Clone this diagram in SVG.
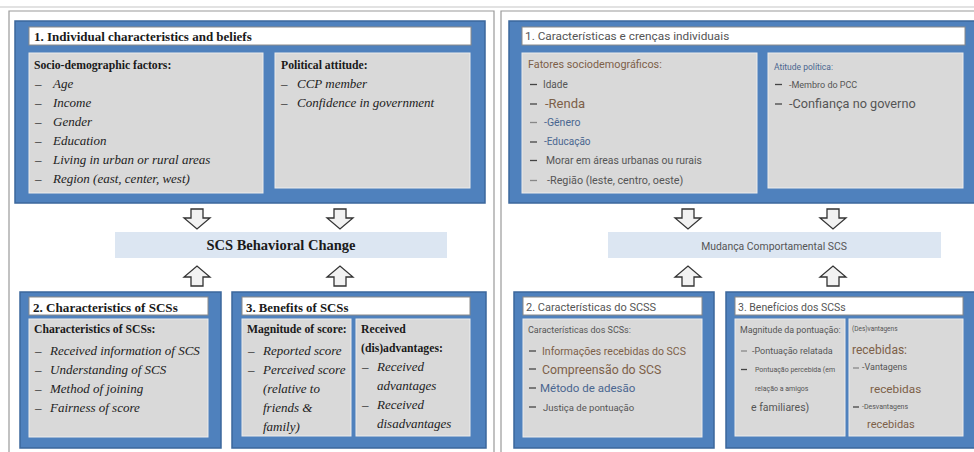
<svg xmlns="http://www.w3.org/2000/svg" xmlns:xlink="http://www.w3.org/1999/xlink" width="974" height="452" viewBox="0 0 974 452">
<style>
.blue{fill:#4f81bd;stroke:#3b679c;stroke-width:1.5}
.title{fill:#fff;stroke:#8a8a8a;stroke-width:1}
.gray{fill:#d9d9d9;stroke:#ececec;stroke-width:1}
.hub{fill:#dce6f2}
.arr{fill:#f2f2f2;stroke:#333;stroke-width:1.3;stroke-linejoin:miter}
.frame{fill:none;stroke:#9a9a9a;stroke-width:1.2}
.tb{font-family:"Liberation Serif",serif;font-weight:bold;fill:#1a1a1a}
.b{font-size:11.7px}
.ti{font-family:"Liberation Serif",serif;font-style:italic;fill:#222;font-size:13px}
.s{font-family:Roboto,"Noto Sans",sans-serif;fill:#555}
.brown{fill:#7d6048}
.bl{fill:#4a6690}
.dash{stroke:#444;stroke-width:1.3}
</style>
<defs>
<path id="down" d="M-6,0 H6 V9 H13 L0,20 L-13,9 H-6 Z"/>
<path id="up" d="M-6,20 H6 V11 H13 L0,0 L-13,11 H-6 Z"/>
</defs>
<line x1="0" y1="7" x2="974" y2="7" stroke="#e2e2e2" stroke-width="2"/>
<g id="frames">
<path class="frame" d="M9,452 V11 H494 V452"/>
<path class="frame" d="M501,452 V11 H974"/>
</g>

<g id="left-box1">
<rect class="blue" x="15" y="21" width="470" height="182"/>
<rect class="title" x="29" y="27" width="442" height="18"/>
<text class="tb" x="34" y="41" font-size="13">1. Individual characteristics and beliefs</text>
<rect class="gray" x="29" y="53" width="234" height="140"/>
<text class="tb b" x="34" y="69">Socio-demographic factors:</text>
<g class="ti">
<text x="35" y="88">–</text><text x="53" y="88">Age</text>
<text x="35" y="107">–</text><text x="53" y="107">Income</text>
<text x="35" y="126">–</text><text x="53" y="126">Gender</text>
<text x="35" y="145">–</text><text x="53" y="145">Education</text>
<text x="35" y="164">–</text><text x="53" y="164">Living in urban or rural areas</text>
<text x="35" y="183">–</text><text x="53" y="183">Region (east, center, west)</text>
</g>
<rect class="gray" x="275" y="53" width="195" height="135"/>
<text class="tb b" x="281" y="69">Political attitude:</text>
<g class="ti">
<text x="281" y="88">–</text><text x="297" y="88">CCP member</text>
<text x="281" y="107">–</text><text x="297" y="107">Confidence in government</text>
</g>
</g>

<g id="left-hub">
<rect class="hub" x="115" y="232" width="332" height="26"/>
<text class="tb" x="281" y="250" font-size="14.5" text-anchor="middle">SCS Behavioral Change</text>
</g>

<g id="left-box2">
<rect class="blue" x="20" y="292" width="201" height="156"/>
<rect class="title" x="29" y="297" width="179" height="18"/>
<text class="tb" x="33" y="312" font-size="13.1">2. Characteristics of SCSs</text>
<rect class="gray" x="29" y="319" width="179" height="118"/>
<text class="tb b" x="34" y="333">Characteristics of SCSs:</text>
<g class="ti">
<text x="35" y="355">–</text><text x="50" y="355">Received information of SCS</text>
<text x="35" y="374">–</text><text x="50" y="374">Understanding of SCS</text>
<text x="35" y="393">–</text><text x="50" y="393">Method of joining</text>
<text x="35" y="412">–</text><text x="50" y="412">Fairness of score</text>
</g>
</g>

<g id="left-box3">
<rect class="blue" x="232" y="292" width="254" height="156"/>
<rect class="title" x="242" y="297" width="228" height="18"/>
<text class="tb" x="246" y="312" font-size="12.8">3. Benefits of SCSs</text>
<rect class="gray" x="242" y="319" width="109" height="117"/>
<text class="tb b" x="247" y="333" font-size="11.6">Magnitude of score:</text>
<g class="ti">
<text x="248" y="355">–</text><text x="263" y="355">Reported score</text>
<text x="248" y="374">–</text><text x="263" y="374">Perceived score</text>
<text x="263" y="393">(relative to</text>
<text x="263" y="412">friends &amp;</text>
<text x="263" y="431">family)</text>
</g>
<rect class="gray" x="356" y="319" width="114" height="117"/>
<text class="tb b" x="361" y="333">Received</text>
<text class="tb b" x="361" y="352">(dis)advantages:</text>
<g class="ti">
<text x="362" y="371">–</text><text x="377" y="371">Received</text>
<text x="377" y="390">advantages</text>
<text x="362" y="409">–</text><text x="377" y="409">Received</text>
<text x="377" y="428">disadvantages</text>
</g>
</g>

<g id="right-box1">
<rect class="blue" x="509" y="21" width="470" height="182"/>
<rect class="title" x="522" y="27" width="443" height="18"/>
<text class="s" x="525" y="40" font-size="11.8" fill="#444">1. Características e crenças individuais</text>
<rect class="gray" x="522" y="53" width="235" height="140"/>
<text class="s brown" x="528" y="68" font-size="10.8">Fatores sociodemográficos:</text>
<g>
<line class="dash" x1="530" y1="84.5" x2="537" y2="84.5"/>
<text class="s" x="543" y="88" font-size="10">Idade</text>
<line class="dash" x1="530" y1="104" x2="537" y2="104"/>
<text class="s brown" x="545" y="108" font-size="13">-Renda</text>
<line x1="530" y1="122.5" x2="537" y2="122.5" stroke="#888" stroke-width="1.3"/>
<text class="s bl" x="544" y="126" font-size="10.5">-Gênero</text>
<line class="dash" x1="530" y1="142" x2="537" y2="142"/>
<text class="s bl" x="544" y="145" font-size="10">-Educação</text>
<line class="dash" x1="530" y1="160.5" x2="537" y2="160.5"/>
<text class="s" x="546" y="164" font-size="10.4">Morar em áreas urbanas ou rurais</text>
<line x1="530" y1="180.5" x2="537" y2="180.5" stroke="#888" stroke-width="1.3"/>
<text class="s" x="547" y="184" font-size="10.8">-Região (leste, centro, oeste)</text>
</g>
<rect class="gray" x="768" y="53" width="195" height="135"/>
<text class="s bl" x="774" y="70" font-size="8.5">Atitude política:</text>
<line class="dash" x1="775" y1="84.5" x2="782" y2="84.5"/>
<text class="s" x="789" y="88" font-size="9">-Membro do PCC</text>
<line class="dash" x1="775" y1="104" x2="782" y2="104"/>
<text class="s" x="789" y="108" font-size="12.7">-Confiança no governo</text>
</g>

<g id="right-hub">
<rect class="hub" x="608" y="232" width="333" height="26"/>
<text class="s" x="774" y="250" font-size="10.4" text-anchor="middle" fill="#444">Mudança Comportamental SCS</text>
</g>

<g id="right-box2">
<rect class="blue" x="514" y="292" width="200" height="156"/>
<rect class="title" x="523" y="297" width="179" height="18"/>
<text class="s" x="526" y="311" font-size="11" fill="#444">2. Características do SCSS</text>
<rect class="gray" x="523" y="319" width="179" height="118"/>
<text class="s" x="528" y="333" font-size="9" fill="#666">Características dos SCSs:</text>
<line class="dash" x1="529" y1="351" x2="536" y2="351"/>
<text class="s brown" x="542" y="355" font-size="10.5">Informações recebidas do SCS</text>
<line class="dash" x1="529" y1="369" x2="536" y2="369"/>
<text class="s brown" x="542" y="374" font-size="12.3">Compreensão do SCS</text>
<line class="dash" x1="529" y1="388" x2="536" y2="388"/>
<text class="s bl" x="540" y="392" font-size="11.5">Método de adesão</text>
<line class="dash" x1="529" y1="407" x2="536" y2="407"/>
<text class="s" x="543" y="411" font-size="9.5">Justiça de pontuação</text>
</g>

<g id="right-box3">
<rect class="blue" x="726" y="292" width="253" height="156"/>
<rect class="title" x="735" y="297" width="228" height="18"/>
<text class="s" x="738" y="311" font-size="10.5" fill="#444">3. Benefícios dos SCSs</text>
<rect class="gray" x="735" y="319" width="110" height="117"/>
<text class="s" x="740" y="333" font-size="8.9">Magnitude da pontuação:</text>
<line x1="741" y1="351" x2="747" y2="351" stroke="#888" stroke-width="1.3"/>
<text class="s" x="752" y="354" font-size="9">-Pontuação relatada</text>
<line class="dash" x1="741" y1="369.5" x2="747" y2="369.5"/>
<text class="s" x="755" y="372" font-size="7">Pontuação percebida (em</text>
<text class="s" x="755" y="391" font-size="7">relação a amigos</text>
<text class="s" x="751" y="411" font-size="10.5" fill="#444">e familiares)</text>
<rect class="gray" x="849" y="319" width="114" height="117"/>
<text class="s" x="852" y="331" font-size="6.5">(Des)vantagens</text>
<text class="s brown" x="852" y="354" font-size="12">recebidas:</text>
<line x1="853" y1="368" x2="859" y2="368" stroke="#888" stroke-width="1.3"/>
<text class="s" x="862" y="370" font-size="9">-Vantagens</text>
<text class="s brown" x="870" y="393" font-size="11.8">recebidas</text>
<line class="dash" x1="853" y1="407" x2="859" y2="407"/>
<text class="s" x="862" y="409" font-size="7">-Desvantagens</text>
<text class="s brown" x="867" y="428" font-size="11">recebidas</text>
</g>

<g id="connectors">
<use href="#down" xlink:href="#down" class="arr" x="197" y="209"/>
<use href="#down" xlink:href="#down" class="arr" x="340" y="209"/>
<use href="#up" xlink:href="#up" class="arr" x="197" y="266"/>
<use href="#up" xlink:href="#up" class="arr" x="340" y="266"/>
<use href="#down" xlink:href="#down" class="arr" x="688" y="209"/>
<use href="#down" xlink:href="#down" class="arr" x="833" y="209"/>
<use href="#up" xlink:href="#up" class="arr" x="688" y="266"/>
<use href="#up" xlink:href="#up" class="arr" x="833" y="266"/>
</g>
</svg>
